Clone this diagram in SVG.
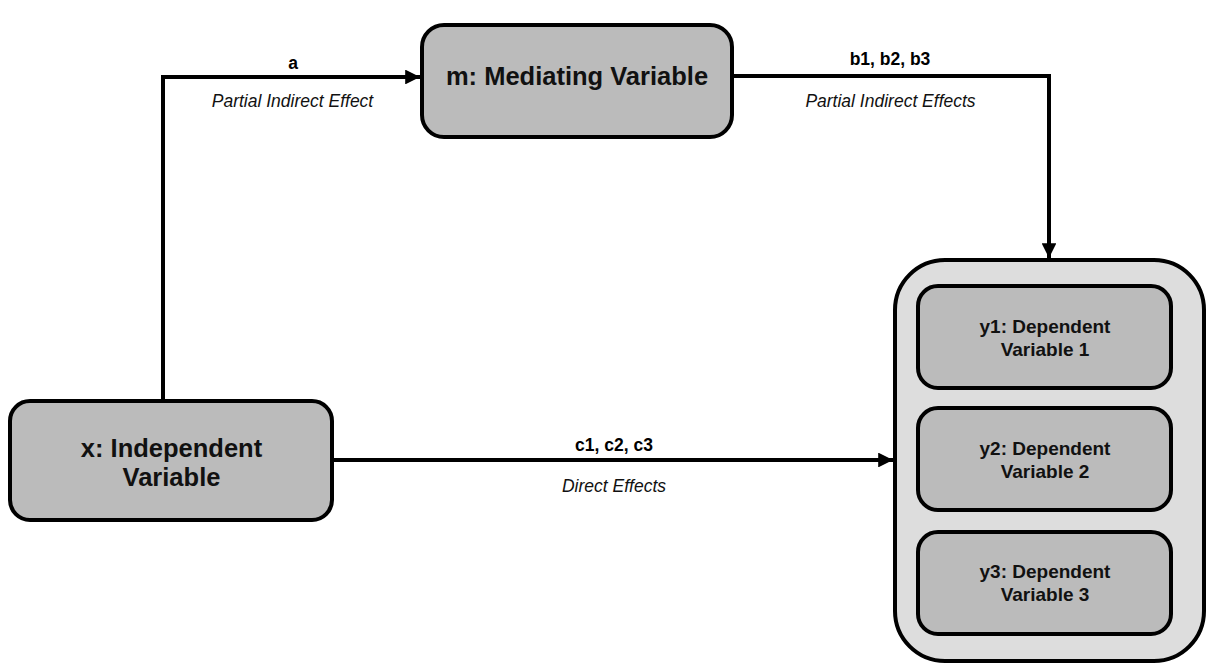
<svg xmlns="http://www.w3.org/2000/svg" width="1207" height="664" viewBox="0 0 1207 664">
<style>
.box{fill:#bbbbbb;stroke:#000;stroke-width:4}
.outer{fill:#dddddd;stroke:#000;stroke-width:4}
.big{font-family:"Liberation Sans",Arial,sans-serif;font-weight:bold;font-size:25.5px;text-anchor:middle;fill:#111}
.mid{font-family:"Liberation Sans",Arial,sans-serif;font-weight:bold;font-size:19px;text-anchor:middle;fill:#111}
.lbl{font-family:"Liberation Sans",Arial,sans-serif;font-weight:bold;font-size:17.5px;text-anchor:middle;fill:#000}
.it{font-family:"Liberation Sans",Arial,sans-serif;font-style:italic;font-size:17.5px;text-anchor:middle;fill:#111}
.conn{fill:none;stroke:#000;stroke-width:4}
</style>
<defs>
<marker id="arr" viewBox="0 0 10 10" refX="10" refY="5" markerWidth="3.7" markerHeight="3.7" orient="auto" markerUnits="strokeWidth">
<path d="M0,0 L10,5 L0,10 z" fill="#000"/>
</marker>
</defs>
<rect width="1207" height="664" fill="#fff"/>
<g id="connectors">
<path class="conn" d="M163,400 V77 H420" marker-end="url(#arr)"/>
<path class="conn" d="M732,76 H1049 V258" marker-end="url(#arr)"/>
<path class="conn" d="M332,460 H893" marker-end="url(#arr)"/>
<text class="lbl" x="293" y="69">a</text>
<text class="it" x="292.5" y="107">Partial Indirect Effect</text>
<text class="lbl" x="890" y="65">b1, b2, b3</text>
<text class="it" x="890.5" y="107">Partial Indirect Effects</text>
<text class="lbl" x="614" y="451">c1, c2, c3</text>
<text class="it" x="614" y="492">Direct Effects</text>
</g>
<g id="m">
<rect class="box" x="422" y="25" width="310" height="112" rx="22"/>
<text class="big" x="577" y="85">m: Mediating Variable</text>
</g>
<g id="x">
<rect class="box" x="10" y="401" width="322" height="119" rx="20"/>
<text class="big" x="171.5" y="457">x: Independent</text>
<text class="big" x="171.5" y="486">Variable</text>
</g>
<g id="y">
<rect class="outer" x="895" y="260" width="309" height="401" rx="50"/>
<g id="y1">
<rect class="box" x="918" y="286" width="253" height="102" rx="20"/>
<text class="mid" x="1045" y="333">y1: Dependent</text>
<text class="mid" x="1045" y="356">Variable 1</text>
</g>
<g id="y2">
<rect class="box" x="918" y="408" width="253" height="102" rx="20"/>
<text class="mid" x="1045" y="455">y2: Dependent</text>
<text class="mid" x="1045" y="478">Variable 2</text>
</g>
<g id="y3">
<rect class="box" x="918" y="532" width="253" height="102" rx="20"/>
<text class="mid" x="1045" y="578">y3: Dependent</text>
<text class="mid" x="1045" y="601">Variable 3</text>
</g>
</g>
</svg>
